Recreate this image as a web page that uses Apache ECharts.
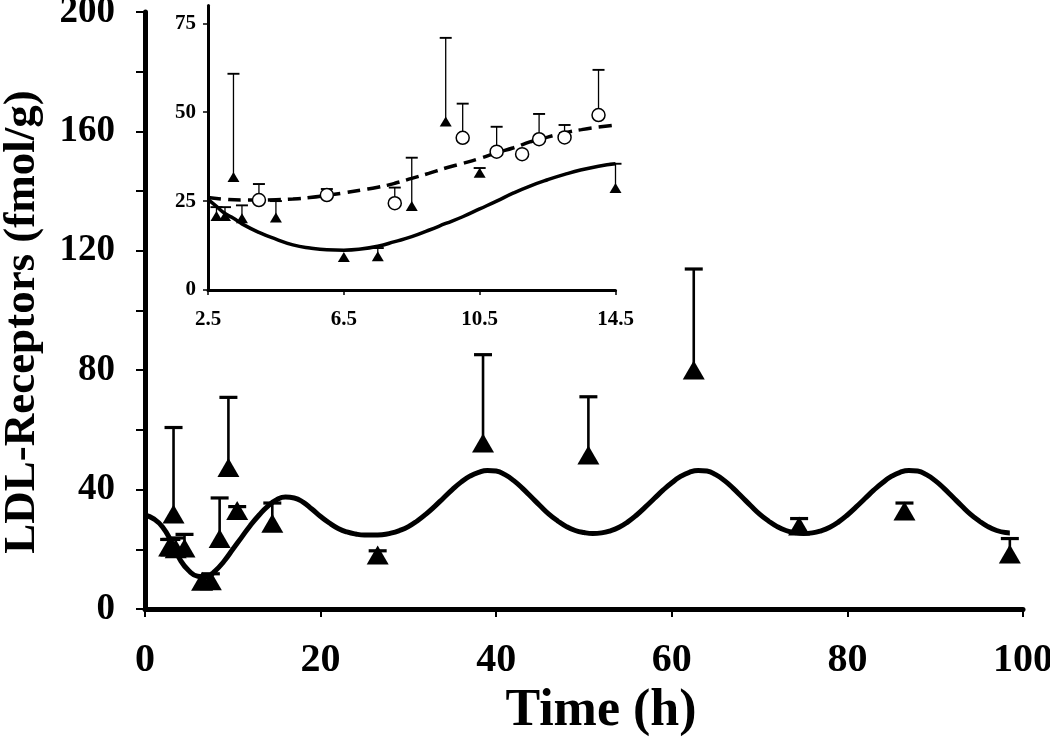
<!DOCTYPE html>
<html>
<head>
<meta charset="utf-8">
<script src="https://cdn.jsdelivr.net/npm/echarts@6/dist/echarts.min.js"></script>
<style>html,body{margin:0;padding:0;background:#fff}#c{width:1050px;height:741px}</style>
</head>
<body>
<div id="c"></div>
<script>
// ---- data ----
const mainXTicks = [0, 20, 40, 60, 80, 100];
const mainYTicks = [0, 40, 80, 120, 160, 200];
const insetXTicks = [2.5, 6.5, 10.5, 14.5];
const insetYTicks = [0, 25, 50, 75];

// triangles: measured data (mean and upper error)
const triTime  = [2.75, 3, 3.25, 3.5, 4.5, 6.5, 7.5, 8.5, 9.5, 10.5, 14.5, 26.5, 38.5, 50.5, 62.5, 74.5, 86.5, 98.5];
const triMean  = [20.8, 20.8, 31.8, 20.2, 20.4, 9.3, 9.5, 23.6, 47.4, 33.0, 28.7, 18.1, 55.6, 51.6, 80.1, 27.8, 32.8, 18.4];
const triUpper = [23.3, 23.3, 60.8, 23.8, 25.0, null, 11.8, 37.2, 70.9, 34.3, 35.5, 19.5, 85.2, 71.1, 113.9, 30.3, 35.5, 23.6];

// open circles (inset only)
const circTime  = [4, 6, 8, 10, 11, 11.75, 12.25, 13, 14];
const circMean  = [25.3, 26.7, 24.4, 42.8, 38.9, 38.2, 42.4, 42.9, 49.2];
const circUpper = [29.8, 28.4, 28.8, 52.4, 45.9, null, 49.5, 46.4, 61.9];

// main model curve (solid), read at ~1 h steps
const curveTime = [0,1,2,3,4,5,6,7,8,9,10,11,12,13,14,15,16,17,18,19,20,21,22,23,24,25,26,27,28,29,30,31,32,33,34,35,36,37,38,39,40,41,42,43,44,45,46,47,48,49,50,51,52,53,54,55,56,57,58,59,60,61,62,63,64,65,66,67,68,69,70,71,72,73,74,75,76,77,78,79,80,81,82,83,84,85,86,87,88,89,90,91,92,93,94,95,96,97,98,98.5];
const curveVal  = [31.5,30.2,27.5,22.5,16.5,12.8,11.0,10.8,12.8,16.0,20.0,24.0,28.0,31.5,34.5,36.6,37.5,37.2,35.8,33.5,31.0,28.8,27.0,25.8,25.1,24.8,24.8,24.9,25.4,26.3,27.6,29.5,31.8,34.4,37.2,40.0,42.5,44.5,45.8,46.4,46.2,45.0,43.0,40.4,37.5,34.6,31.8,29.5,27.6,26.3,25.6,25.3,25.5,26.2,27.4,29.2,31.5,34.2,37.0,39.8,42.3,44.4,45.8,46.4,46.2,45.0,43.0,40.4,37.5,34.6,31.8,29.5,27.6,26.3,25.6,25.3,25.5,26.2,27.4,29.2,31.5,34.2,37.0,39.8,42.3,44.4,45.8,46.4,46.2,45.0,43.0,40.4,37.5,34.6,31.8,29.5,27.6,26.3,25.6,25.5];

// inset curves
const insetSolidTime = [2.5,2.75,3,3.25,3.5,4,4.5,5,5.5,6,6.5,7,7.5,8,8.5,9,9.5,10,10.5,11,11.5,12,12.5,13,13.5,14,14.5];
const insetSolidVal  = [25.5,23.5,21.5,20.2,18.6,16.2,14.3,12.7,11.8,11.3,11.2,11.5,12.3,13.6,15.0,16.8,18.7,20.6,22.8,25.0,27.3,29.3,31.0,32.5,33.8,34.8,35.5];
const insetDashTime  = [2.5,3,3.5,4,4.5,5,5.5,6,6.5,7,7.5,8,8.5,9,9.5,10,10.5,11,11.5,12,12.5,13,13.5,14,14.5];
const insetDashVal   = [26.0,25.5,25.3,25.3,25.4,25.6,26.0,26.6,27.3,28.1,28.9,30.0,31.4,32.8,34.3,35.6,37.0,38.6,40.0,41.7,43.0,44.2,45.1,45.8,46.4];

// ---- build ----
const zip = (a, b) => a.map((v, i) => [v, b[i]]);
const zip3 = (a, b, c) => a.map((v, i) => [v, b[i], c[i]]).filter(d => d[2] != null);
const FONT = '"Liberation Serif", "Times New Roman", serif';

function errRender(capW, lw) {
  return function (params, api) {
    const x = api.value(0), m = api.value(1), u = api.value(2);
    const p0 = api.coord([x, m]);
    const p1 = api.coord([x, u]);
    return {
      type: 'group',
      children: [
        { type: 'line', shape: { x1: p0[0], y1: p0[1], x2: p1[0], y2: p1[1] }, style: { stroke: '#000', lineWidth: lw } },
        { type: 'line', shape: { x1: p1[0] - capW / 2, y1: p1[1], x2: p1[0] + capW / 2, y2: p1[1] }, style: { stroke: '#000', lineWidth: lw + 0.6 } }
      ]
    };
  };
}

const triAll = zip(triTime, triMean);
const triErrAll = zip3(triTime, triMean, triUpper);
const triInset = triAll.filter(d => d[0] <= 14.5);
const triErrInset = triErrAll.filter(d => d[0] <= 14.5);

const chart = echarts.init(document.getElementById('c'), null, { renderer: 'canvas' });
chart.setOption({
  animation: false,
  backgroundColor: '#fff',
  grid: [
    { left: 145, top: 12, width: 878, height: 597, containLabel: false, outerBoundsMode: 'none' },
    { left: 208, top: 5.5, width: 407.5, height: 284.5, containLabel: false, outerBoundsMode: 'none' }
  ],
  xAxis: [
    {
      gridIndex: 0, type: 'value', min: 0, max: 100, interval: 20,
      axisLine: { show: true, onZero: false, lineStyle: { color: '#000', width: 5 } },
      axisTick: { show: true, length: 8, lineStyle: { color: '#000', width: 2 } },
      axisLabel: { color: '#000', fontFamily: FONT, fontWeight: 'bold', fontSize: 40, margin: 32,
        customValues: mainXTicks },
      splitLine: { show: false },
      name: 'Time (h)', nameLocation: 'middle', nameGap: 73,
      nameTextStyle: { color: '#000', fontFamily: FONT, fontWeight: 'bold', fontSize: 52, padding: [0, 0, 0, 34] }
    },
    {
      gridIndex: 1, type: 'value', min: 2.5, max: 14.5,
      axisLine: { show: true, onZero: false, lineStyle: { color: '#000', width: 3 } },
      axisTick: { show: true, length: 5, customValues: insetXTicks, lineStyle: { color: '#000', width: 1.5 } },
      axisLabel: { color: '#000', fontFamily: FONT, fontWeight: 'bold', fontSize: 21, margin: 19, customValues: insetXTicks },
      splitLine: { show: false }
    }
  ],
  yAxis: [
    {
      gridIndex: 0, type: 'value', min: 0, max: 200, interval: 20,
      axisLine: { show: true, onZero: false, lineStyle: { color: '#000', width: 5 } },
      axisTick: { show: true, length: 9, lineStyle: { color: '#000', width: 2 } },
      axisLabel: { color: '#000', fontFamily: FONT, fontWeight: 'bold', fontSize: 37, margin: 30,
        customValues: mainYTicks },
      splitLine: { show: false },
      name: 'LDL-Receptors (fmol/g)', nameLocation: 'middle', nameGap: 100, nameRotate: 90,
      nameTextStyle: { color: '#000', fontFamily: FONT, fontWeight: 'bold', fontSize: 45, padding: [0, 23, 0, 0] }
    },
    {
      gridIndex: 1, type: 'value', min: 0, max: 80,
      axisLine: { show: true, onZero: false, lineStyle: { color: '#000', width: 3 } },
      axisTick: { show: true, length: 5, customValues: insetYTicks, lineStyle: { color: '#000', width: 1.5 } },
      axisLabel: { color: '#000', fontFamily: FONT, fontWeight: 'bold', fontSize: 21, margin: 12, customValues: insetYTicks },
      splitLine: { show: false }
    }
  ],
  series: [
    // main
    { type: 'line', xAxisIndex: 0, yAxisIndex: 0, data: zip(curveTime, curveVal), smooth: true, showSymbol: false,
      lineStyle: { color: '#000', width: 5 }, z: 2 },
    { type: 'custom', xAxisIndex: 0, yAxisIndex: 0, data: triErrAll, renderItem: errRender(18, 2.6),
      encode: { x: 0, y: [1, 2] }, z: 3 },
    { type: 'scatter', xAxisIndex: 0, yAxisIndex: 0, data: triAll, symbol: 'triangle', symbolSize: [22, 19],
      itemStyle: { color: '#000', opacity: 1 }, z: 4 },
    // inset
    { type: 'line', xAxisIndex: 1, yAxisIndex: 1, data: zip(insetSolidTime, insetSolidVal), smooth: true, showSymbol: false,
      lineStyle: { color: '#000', width: 3.5 }, z: 2 },
    { type: 'line', xAxisIndex: 1, yAxisIndex: 1, data: zip(insetDashTime, insetDashVal), smooth: true, showSymbol: false,
      lineStyle: { color: '#000', width: 3.5, type: [13, 7] }, z: 2 },
    { type: 'custom', xAxisIndex: 1, yAxisIndex: 1, data: triErrInset, renderItem: errRender(12, 1.3),
      encode: { x: 0, y: [1, 2] }, z: 3 },
    { type: 'custom', xAxisIndex: 1, yAxisIndex: 1, data: zip3(circTime, circMean, circUpper), renderItem: errRender(12, 1.3),
      encode: { x: 0, y: [1, 2] }, z: 3 },
    { type: 'scatter', xAxisIndex: 1, yAxisIndex: 1, data: triInset, symbol: 'triangle', symbolSize: [12, 10],
      itemStyle: { color: '#000', opacity: 1 }, z: 4 },
    { type: 'scatter', xAxisIndex: 1, yAxisIndex: 1, data: zip(circTime, circMean), symbol: 'circle', symbolSize: 13,
      itemStyle: { color: '#fff', borderColor: '#000', borderWidth: 1.5, opacity: 1 }, z: 5 }
  ]
});
</script>
</body>
</html>
